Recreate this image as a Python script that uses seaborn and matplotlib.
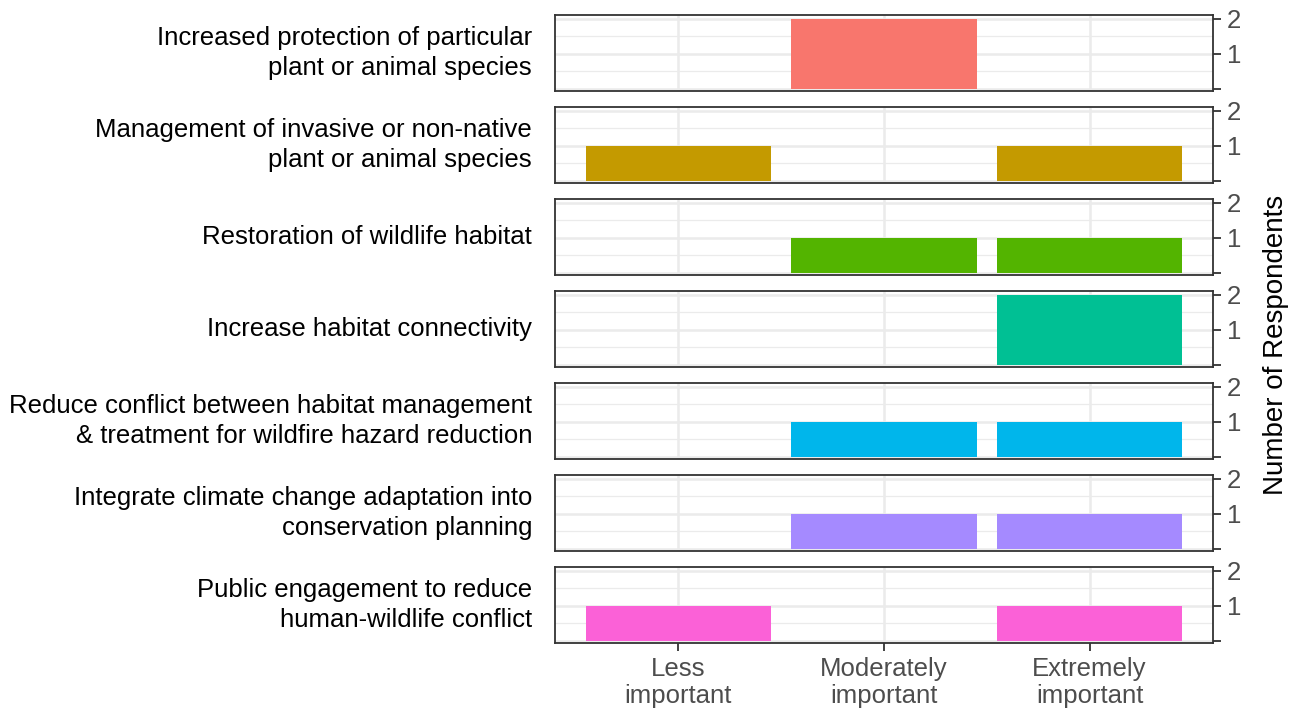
import matplotlib
matplotlib.use("Agg")
import matplotlib.pyplot as plt
import seaborn as sns
import pandas as pd
from matplotlib.ticker import MultipleLocator

# Data
items = [
    "Increased protection of particular\nplant or animal species",
    "Management of invasive or non-native\nplant or animal species",
    "Restoration of wildlife habitat",
    "Increase habitat connectivity",
    "Reduce conflict between habitat management\n& treatment for wildfire hazard reduction",
    "Integrate climate change adaptation into\nconservation planning",
    "Public engagement to reduce\nhuman-wildlife conflict",
]
levels = ["Less\nimportant", "Moderately\nimportant", "Extremely\nimportant"]
less_important = [0, 1, 0, 0, 0, 0, 1]
moderately_important = [2, 0, 1, 0, 1, 1, 0]
extremely_important = [0, 1, 1, 2, 1, 1, 1]
colors = ["#F8766D", "#C49A00", "#53B400", "#00C094", "#00B6EB", "#A58AFF", "#FB61D7"]

rows = []
for i, item in enumerate(items):
    for lvl, vals in zip(levels, [less_important, moderately_important, extremely_important]):
        if vals[i] > 0:
            rows.append({"item": item, "importance": lvl, "count": vals[i]})
df = pd.DataFrame(rows)

sns.set_theme(style="white")
plt.rcParams["font.family"] = ["Liberation Sans", "DejaVu Sans"]

W, H = 1305, 712
fig = plt.figure(figsize=(W / 100, H / 100), dpi=100)

left_px, right_px = 555, 1213
top0, step, height = 15, 92, 76

for i, item in enumerate(items):
    top = top0 + step * i
    ax = fig.add_axes([left_px / W, 1 - (top + height) / H,
                       (right_px - left_px) / W, height / H])
    sub = df[df["item"] == item]
    sns.barplot(data=sub, x="importance", y="count", order=levels,
                color=colors[i], width=0.9, saturation=1, linewidth=0,
                ax=ax)
    ax.set_xlim(-0.6, 2.6)
    ax.set_ylim(-0.06, 2.1)
    ax.set_axisbelow(True)
    ax.yaxis.set_major_locator(MultipleLocator(1))
    ax.yaxis.set_minor_locator(MultipleLocator(0.5))
    ax.grid(True, which="major", color="#EBEBEB", linewidth=1.8)
    ax.grid(True, which="minor", axis="y", color="#EBEBEB", linewidth=0.9)
    ax.yaxis.tick_right()
    ax.set_yticks([0, 1, 2])
    ax.set_yticklabels(["", "1", "2"])
    ax.tick_params(axis="y", which="major", right=True, left=False, length=6,
                   width=1.3, color="#333333", labelsize=18.5, labelcolor="#4D4D4D",
                   pad=4)
    ax.tick_params(axis="y", which="minor", length=0)
    ax.set_xlabel("")
    ax.set_ylabel("")
    for sp in ax.spines.values():
        sp.set_visible(True)
        sp.set_color("#333333")
        sp.set_linewidth(1.3)
    if i < len(items) - 1:
        ax.tick_params(axis="x", bottom=False, labelbottom=False)
    else:
        ax.tick_params(axis="x", bottom=True, length=6, width=1.3,
                       color="#333333", labelsize=18.5, labelcolor="#4D4D4D", pad=4)
        for lab in ax.get_xticklabels():
            lab.set_linespacing(1.15)
    fig.text(532 / W, 1 - (top + height / 2) / H, item, ha="right", va="center",
             fontsize=18.5, color="black", linespacing=1.32)

fig.text(1276 / W, 1 - 345 / H, "Number of Respondents", rotation=90,
         ha="center", va="center", fontsize=20, color="black")

fig.savefig("out.png", dpi=100)
